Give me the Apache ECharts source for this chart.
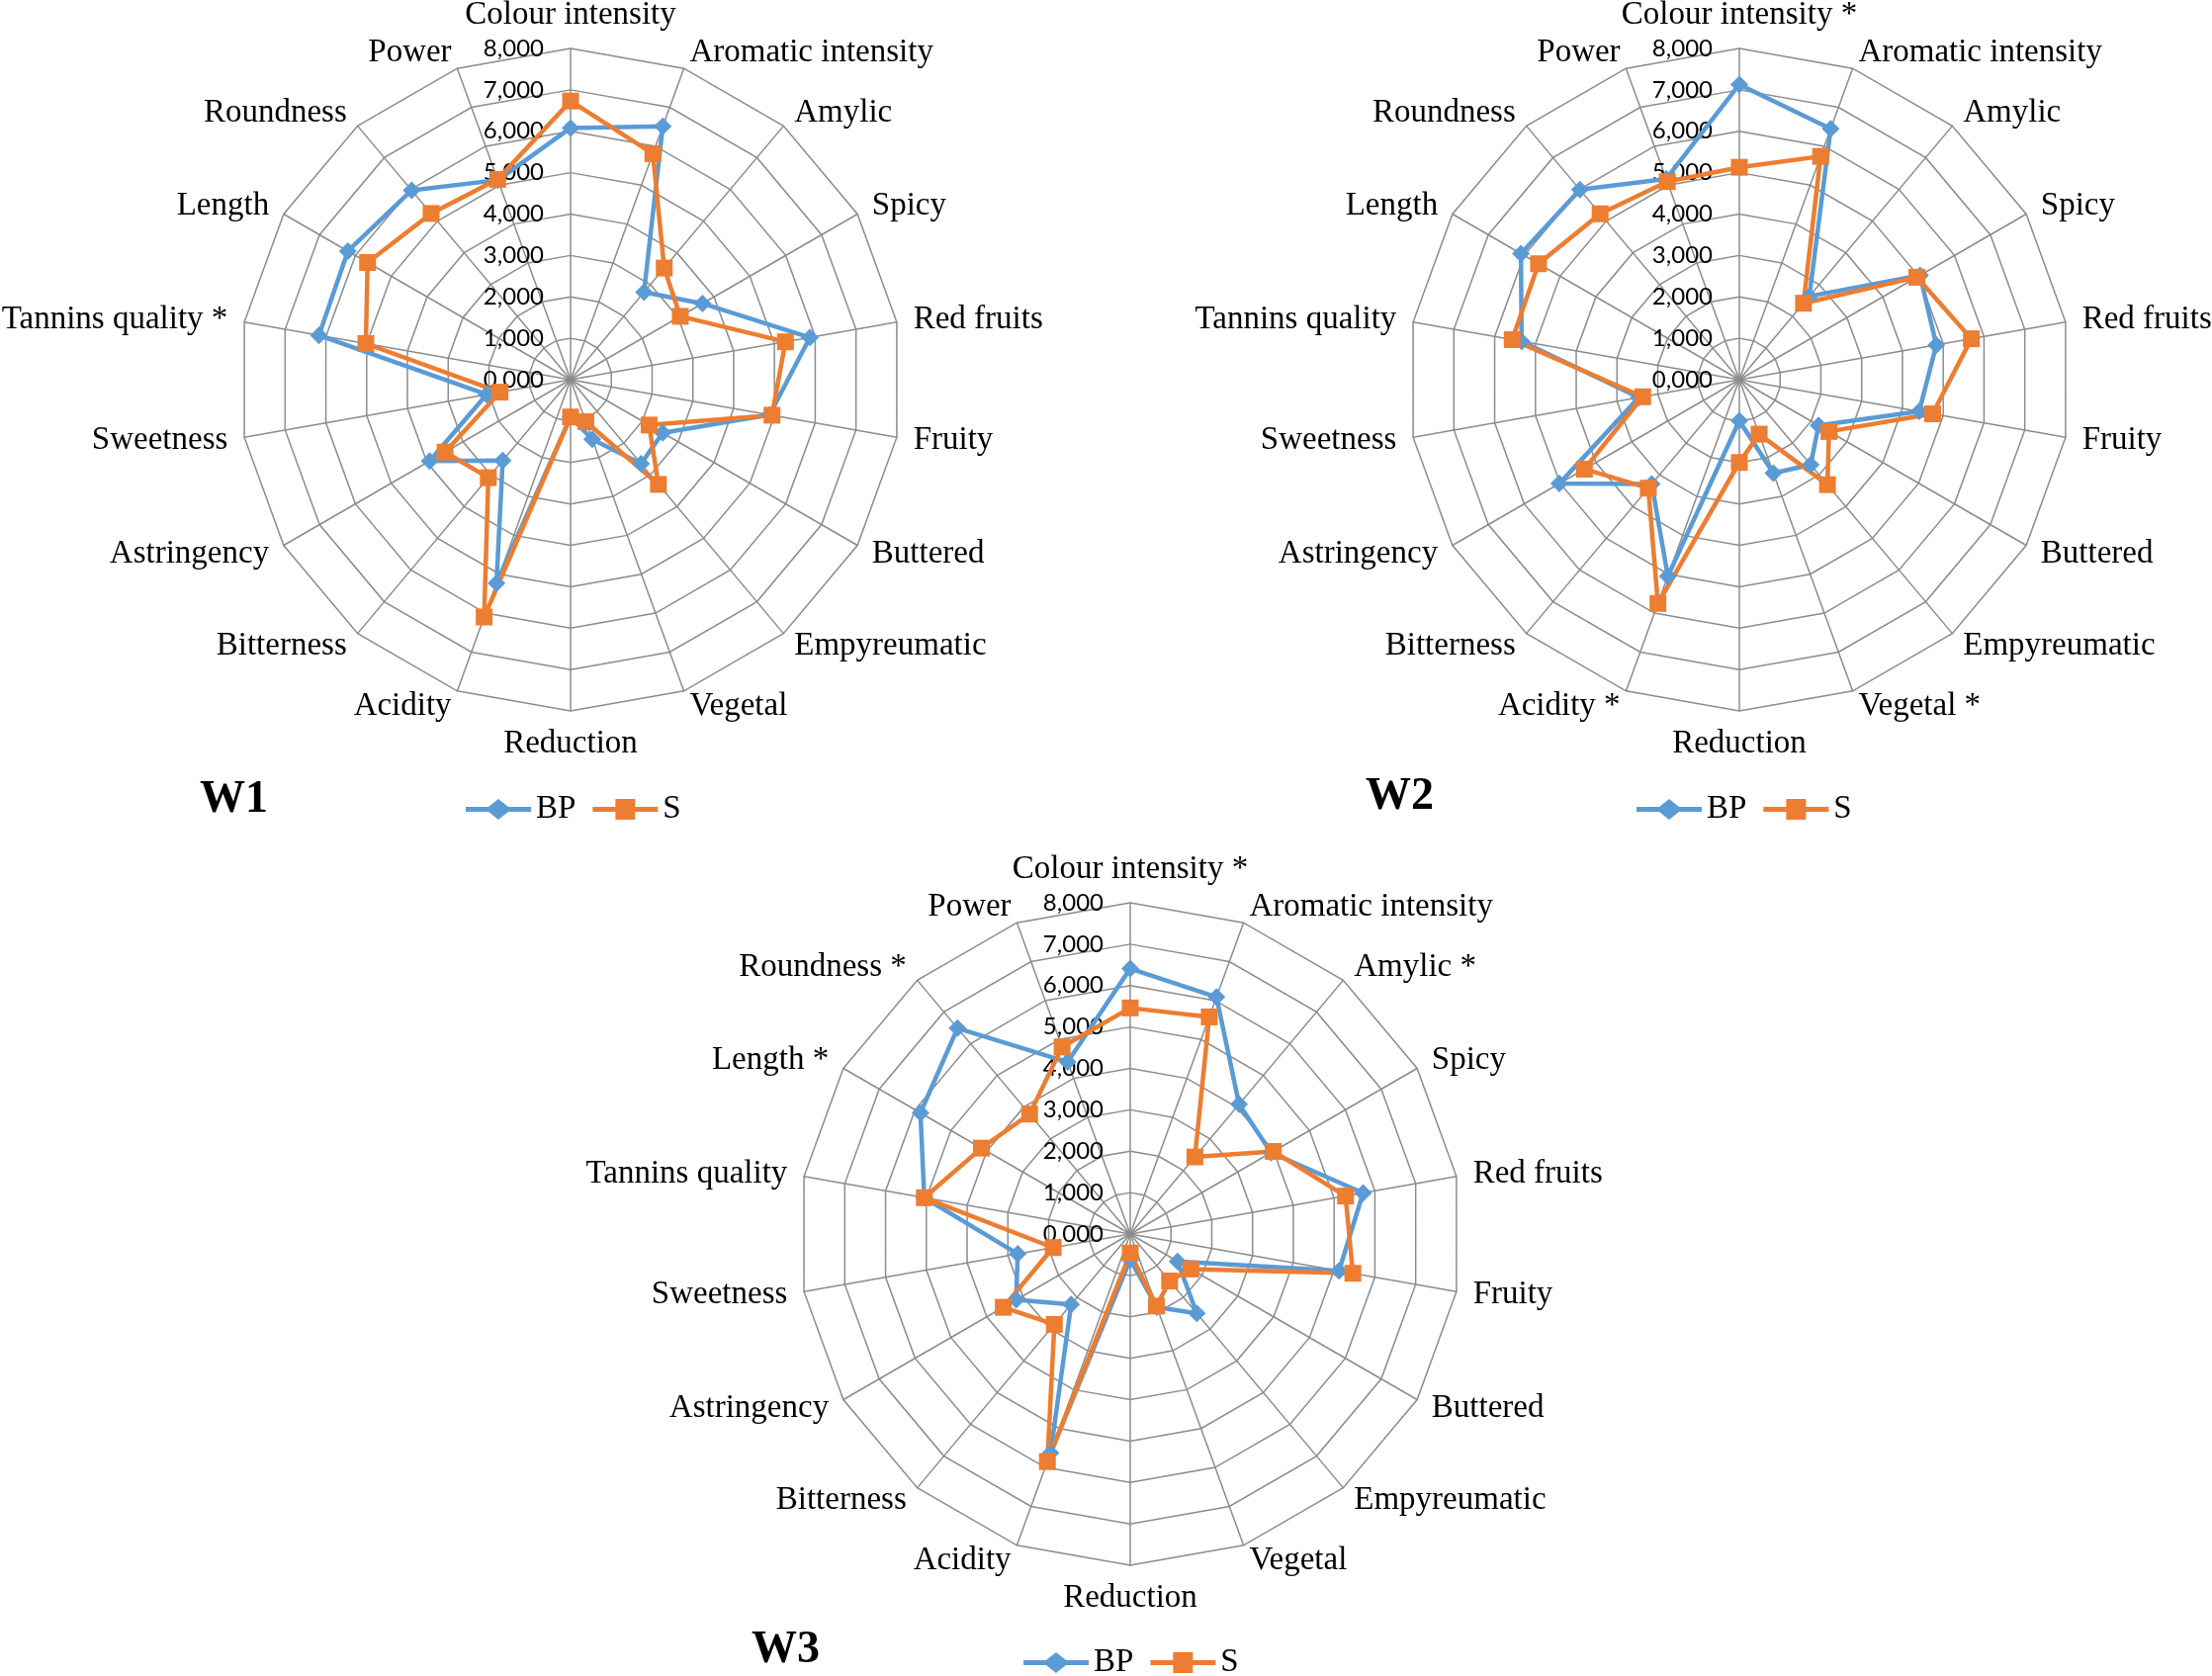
<!DOCTYPE html>
<html><head><meta charset="utf-8">
<script src="https://cdn.jsdelivr.net/npm/echarts@6/dist/echarts.min.js"></script>
<style>html,body{margin:0;padding:0;background:#fff}#c{width:2237px;height:1695px}</style>
</head><body><div id="c"></div>
<script>
// Attributes, clockwise from the top
const attributesW1 = ['Colour intensity','Aromatic intensity','Amylic','Spicy','Red fruits','Fruity','Buttered','Empyreumatic','Vegetal','Reduction','Acidity','Bitterness','Astringency','Sweetness','Tannins quality *','Length','Roundness','Power'];
const attributesW2 = ['Colour intensity *','Aromatic intensity','Amylic','Spicy','Red fruits','Fruity','Buttered','Empyreumatic','Vegetal *','Reduction','Acidity *','Bitterness','Astringency','Sweetness','Tannins quality','Length','Roundness','Power'];
const attributesW3 = ['Colour intensity *','Aromatic intensity','Amylic *','Spicy','Red fruits','Fruity','Buttered','Empyreumatic','Vegetal','Reduction','Acidity','Bitterness','Astringency','Sweetness','Tannins quality','Length *','Roundness *','Power'];

const bpW1 = [6.08, 6.51, 2.76, 3.68, 5.87, 4.88, 2.57, 2.65, 1.53, 0.90, 5.23, 2.55, 3.93, 2.06, 6.17, 6.21, 5.97, 5.13];
const sW1  = [6.73, 5.81, 3.52, 3.06, 5.27, 4.94, 2.19, 3.30, 1.08, 0.90, 6.10, 3.09, 3.50, 1.73, 5.02, 5.66, 5.24, 5.15];
const bpW2 = [7.13, 6.45, 2.63, 5.04, 4.83, 4.41, 2.21, 2.68, 2.40, 0.99, 5.05, 3.29, 5.02, 2.46, 5.34, 6.09, 5.99, 5.16];
const sW2  = [5.13, 5.74, 2.41, 4.95, 5.69, 4.74, 2.50, 3.31, 1.40, 2.00, 5.75, 3.42, 4.32, 2.37, 5.57, 5.60, 5.23, 5.09];
const bpW3 = [6.41, 6.09, 4.09, 3.93, 5.71, 5.12, 1.32, 2.50, 1.88, 0.62, 5.63, 2.22, 3.18, 2.76, 5.05, 5.85, 6.49, 4.42];
const sW3  = [5.46, 5.58, 2.43, 3.99, 5.28, 5.46, 1.69, 1.48, 1.85, 0.46, 5.85, 2.85, 3.54, 1.89, 5.05, 4.15, 3.78, 4.81];

const seriesNames = ['BP', 'S'];
const panelTitles = ['W1', 'W2', 'W3'];
const scaleMin = 0, scaleMax = 8, scaleSteps = 8;

const BLUE = '#5B9BD5', ORANGE = '#ED7D31', GRID = '#8c8c8c';
const SERIF = 'Liberation Serif, Times New Roman, serif';

// ECharts radar runs counter-clockwise; reorder to keep clockwise reading
function clockwise(arr) { return [arr[0]].concat(arr.slice(1).reverse()); }

const layout = [
  { center: [577, 384], title: [202, 786], legend: [471, 802] },
  { center: [1759, 384], title: [1381, 783], legend: [1655, 802] },
  { center: [1143, 1248], title: [760, 1646], legend: [1035, 1665] }
];
const attrs = [attributesW1, attributesW2, attributesW3];
const bps = [bpW1, bpW2, bpW3];
const ss = [sW1, sW2, sW3];

const fmt = v => Number(v).toFixed(3).replace('.', ',');

const radars = attrs.map((names, k) => ({
  center: layout[k].center,
  radius: 335,
  startAngle: 90,
  shape: 'polygon',
  splitNumber: scaleSteps,
  nameGap: 17,
  indicator: clockwise(names).map((n, i) => {
    const o = { name: n, min: scaleMin, max: scaleMax };
    if (i === 0) {
      o.axisLabel = { show: true, margin: 27, color: '#000', fontFamily: 'Lato, sans-serif', fontSize: 24, formatter: fmt };
    }
    return o;
  }),
  axisName: { color: '#000', fontFamily: SERIF, fontSize: 33 },
  axisLine: { lineStyle: { color: GRID, width: 1.5 } },
  splitLine: { lineStyle: { color: GRID, width: 1.5 } },
  splitArea: { show: false },
  axisTick: { show: false },
  axisLabel: { show: false }
}));

const series = attrs.map((names, k) => ({
  type: 'radar',
  radarIndex: k,
  z: 3,
  data: [
    { name: seriesNames[0], value: clockwise(bps[k]), symbol: 'diamond', symbolSize: 18,
      lineStyle: { color: BLUE, width: 4.5 }, itemStyle: { color: BLUE } },
    { name: seriesNames[1], value: clockwise(ss[k]), symbol: 'rect', symbolSize: 17,
      lineStyle: { color: ORANGE, width: 4.5 }, itemStyle: { color: ORANGE } }
  ]
}));

const ICON_BP = 'path://M0,8 L23,8 L33,0 L43,8 L66,8 L66,13 L43,13 L33,21 L23,13 L0,13 Z';
const ICON_S = 'path://M0,8 L23,8 L23,0 L43,0 L43,8 L66,8 L66,13 L43,13 L43,21 L23,21 L23,13 L0,13 Z';

const legends = layout.map(l => ({
  left: l.legend[0], top: l.legend[1], padding: 0,
  itemWidth: 66, itemHeight: 21, itemGap: 17,
  selectedMode: false,
  textStyle: { fontFamily: SERIF, fontSize: 33, color: '#000' },
  data: [
    { name: seriesNames[0], icon: ICON_BP, itemStyle: { color: BLUE, borderWidth: 0 } },
    { name: seriesNames[1], icon: ICON_S, itemStyle: { color: ORANGE, borderWidth: 0 } }
  ]
}));

const titles = layout.map((l, k) => ({
  text: panelTitles[k], left: l.title[0], top: l.title[1], padding: 0,
  textStyle: { fontFamily: SERIF, fontWeight: 'bold', fontSize: 46, color: '#000' }
}));

const chart = echarts.init(document.getElementById('c'), null, { renderer: 'canvas' });
chart.setOption({
  backgroundColor: '#fff',
  animation: false,
  title: titles,
  legend: legends,
  radar: radars,
  series: series
});
</script></body></html>
